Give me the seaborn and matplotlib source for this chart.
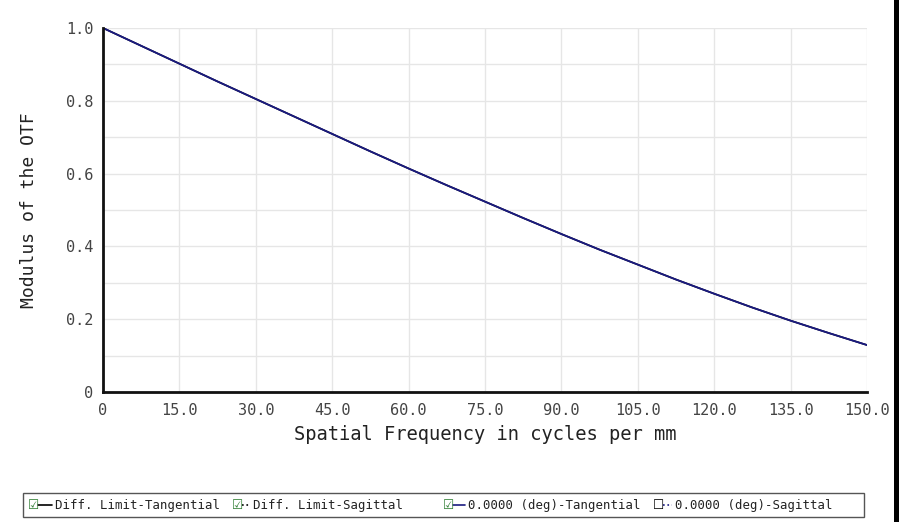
import matplotlib
matplotlib.use("Agg")
import matplotlib.pyplot as plt
import seaborn as sns
import pandas as pd
from matplotlib.lines import Line2D
from matplotlib.patches import Rectangle

# spatial frequency (cycles/mm) and MTF values
freq = [0, 7.5, 15, 22.5, 30, 37.5, 45, 52.5, 60, 67.5, 75, 82.5,
        90, 97.5, 105, 112.5, 120, 127.5, 135, 142.5, 150]
mtf_diff = [1.0, 0.951, 0.902, 0.853, 0.805, 0.757, 0.709, 0.661, 0.614, 0.568, 0.523, 0.478,
            0.434, 0.391, 0.350, 0.309, 0.270, 0.232, 0.196, 0.162, 0.129]
mtf_field = [1.0, 0.951, 0.902, 0.853, 0.805, 0.757, 0.709, 0.661, 0.614, 0.568, 0.523, 0.478,
             0.434, 0.391, 0.350, 0.309, 0.270, 0.232, 0.196, 0.162, 0.129]

x_ticks = [0, 15, 30, 45, 60, 75, 90, 105, 120, 135, 150]
x_labels = ["0", "15.0", "30.0", "45.0", "60.0", "75.0", "90.0", "105.0", "120.0", "135.0", "150.0"]
y_ticks = [0, 0.2, 0.4, 0.6, 0.8, 1.0]
y_labels = ["0", "0.2", "0.4", "0.6", "0.8", "1.0"]

legend_labels = ["Diff. Limit-Tangential", "Diff. Limit-Sagittal",
                 "0.0000 (deg)-Tangential", "0.0000 (deg)-Sagittal"]

df = pd.DataFrame({"freq": freq, "diff": mtf_diff, "field": mtf_field})

sns.set_style("white")
plt.rcParams["font.family"] = ["DejaVu Sans Mono", "DejaVu Sans"]

W, H = 899, 522
fig = plt.figure(figsize=(W / 100, H / 100), dpi=100)
ax = fig.add_axes([103 / W, 1 - 392 / H, (867 - 103) / W, (392 - 28) / H])

sns.lineplot(data=df, x="freq", y="diff", ax=ax, color="black", linewidth=1.2)
sns.lineplot(data=df, x="freq", y="field", ax=ax, color="#1a1a80", linewidth=1.3)

ax.set_xlim(0, 150)
ax.set_ylim(0, 1.0)
ax.set_xticks(x_ticks)
ax.set_xticklabels(x_labels)
ax.set_yticks(y_ticks)
ax.set_yticklabels(y_labels)
ax.set_yticks([i / 10 for i in range(11)], minor=True)
ax.grid(which="both", color="#e6e6e6", linewidth=1.0)
ax.tick_params(which="both", length=0, labelsize=11, colors="#444444", pad=8)
ax.tick_params(axis="y", pad=7)
ax.set_xlabel("Spatial Frequency in cycles per mm", fontsize=13.5, labelpad=5, color="#222222")
ax.set_ylabel("Modulus of the OTF", fontsize=13, labelpad=20, color="#222222")

for side in ["top", "right"]:
    ax.spines[side].set_visible(False)
ax.spines["left"].set_linewidth(2)
ax.spines["bottom"].set_linewidth(2)
ax.spines["left"].set_color("#111111")
ax.spines["bottom"].set_color("#111111")

# right black frame edge
fig.patches.append(Rectangle((894 / W, 0), 5 / W, 1, transform=fig.transFigure,
                             facecolor="black", edgecolor="none"))

# legend box
fig.patches.append(Rectangle((23 / W, 1 - 517 / H), (864 - 23) / W, 24 / H,
                             transform=fig.transFigure, facecolor="white",
                             edgecolor="#555555", linewidth=1))

# (checkbox x, label x) in pixels
entries = [
    (28, 55, True, "-", "black", legend_labels[0]),
    (232, 253, True, ":", "black", legend_labels[1]),
    (443, 468, True, "-", "#1a1a80", legend_labels[2]),
    (653, 675, False, ":", "#1a1a80", legend_labels[3]),
]
yc = 1 - 505 / H
for xb, xl, checked, ls, col, lab in entries:
    fig.text(xb / W, yc, "\u2611" if checked else "\u2610", fontsize=9,
             color="#2e7d32" if checked else "black", va="center", ha="left",
             family=["DejaVu Sans"])
    fig.add_artist(Line2D([(xb + 10) / W, (xl - 3) / W], [yc, yc],
                          transform=fig.transFigure, color=col, linestyle=ls, linewidth=1.2))
    fig.text(xl / W, yc, lab, fontsize=8.9, color="#222222", va="center", ha="left")

fig.savefig("out.png", dpi=100)
